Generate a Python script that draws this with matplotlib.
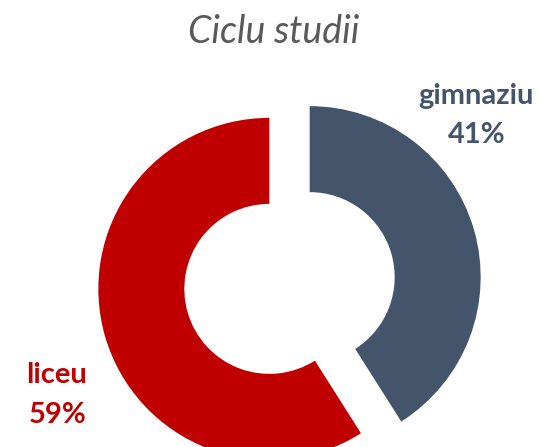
import matplotlib.pyplot as plt

# date
categorii = ["gimnaziu", "liceu"]
procente = [41, 59]
culori = ["#44546A", "#C00000"]

fig = plt.figure(figsize=(5.41, 4.47), dpi=100)
ax = fig.add_axes([0, 0, 1, 1])

ax.pie(procente, colors=culori, startangle=90, counterclock=False,
       radius=171, center=(289.5, 164), explode=[21, 21],
       wedgeprops=dict(width=86, linewidth=0), frame=True)
ax.set_xlim(0, 541)
ax.set_ylim(0, 447)
ax.set_aspect("equal")
ax.axis("off")

ax.text(273.5, 415, "Ciclu studii", ha="center", va="center", fontsize=27,
        style="italic", color="#595959", family="Lato")

# etichete
ax.text(476, 351, categorii[0], ha="center", va="center", fontsize=21,
        fontweight="bold", color=culori[0], family="Lato")
ax.text(477, 312, f"{procente[0]}%", ha="center", va="center", fontsize=21,
        fontweight="bold", color=culori[0], family="Lato")
ax.text(57, 72, categorii[1], ha="center", va="center", fontsize=21,
        fontweight="bold", color=culori[1], family="Lato")
ax.text(58, 32, f"{procente[1]}%", ha="center", va="center", fontsize=21,
        fontweight="bold", color=culori[1], family="Lato")

fig.savefig("out.png", dpi=100)
